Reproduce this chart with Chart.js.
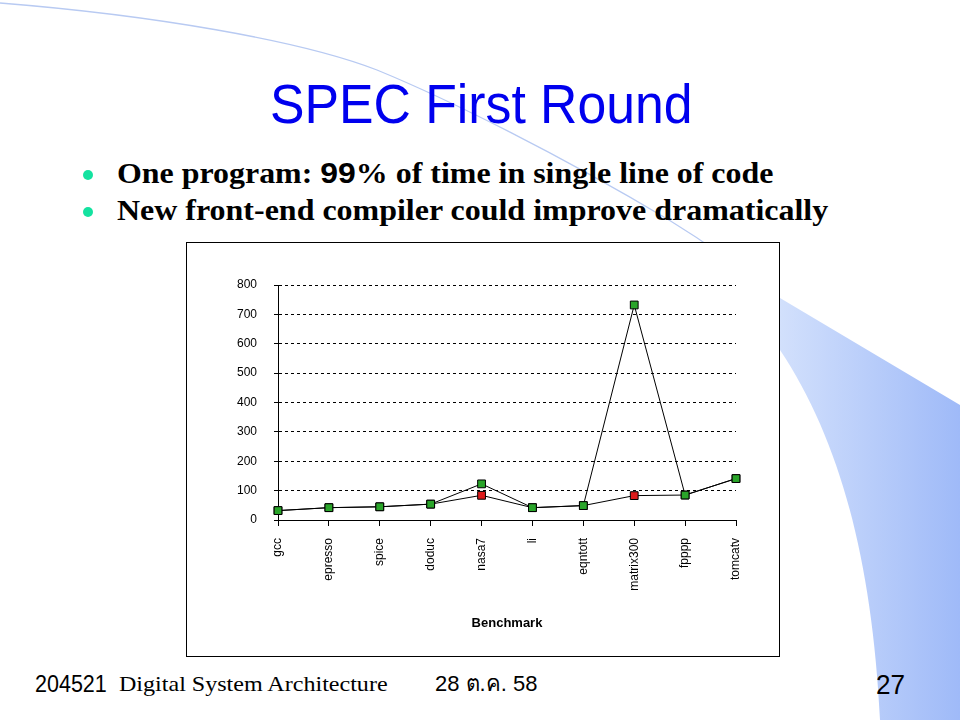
<!DOCTYPE html>
<html>
<head>
<meta charset="utf-8">
<script src="https://cdn.jsdelivr.net/npm/chart.js@4.4.1/dist/chart.umd.min.js"></script>
<style>
html, body { margin: 0; padding: 0; background: #fff; }
#slide { position: relative; width: 960px; height: 720px; overflow: hidden; background: #fff; }
#deco { position: absolute; left: 0; top: 0; }
.t { position: absolute; white-space: nowrap; line-height: 1; transform-origin: 0 0; }
.sans { font-family: "Liberation Sans", Arial, sans-serif; }
.serif { font-family: "Liberation Serif", "Times New Roman", serif; }
.dot { position: absolute; width: 10px; height: 10px; border-radius: 50%; background: #14e2a0; }
#box { position: absolute; left: 186px; top: 242px; width: 592px; height: 413px; border: 1px solid #000; background: #fff; }
</style>
</head>
<body>
<div id="slide">
  <svg id="deco" width="960" height="720">
    <defs>
      <linearGradient id="band" x1="780" y1="0" x2="960" y2="0" gradientUnits="userSpaceOnUse">
        <stop offset="0" stop-color="#d2e0fc"/>
        <stop offset="1" stop-color="#9fbaf8"/>
      </linearGradient>
    </defs>
    <path d="M 0 3 C 150 15 300 40 377 70 C 450 100 560 155 669 220 C 710 245 750 275 780 300" stroke="#b8caf2" stroke-width="1.3" fill="none"/>
    <path d="M 780 298 L 960 405 L 960 720 L 880 720 C 872 560 840 440 780 350 Z" fill="url(#band)"/>
  </svg>

  <div class="t sans" style="left:270px; top:75.7px; font-size:56px; color:#0000ee;" data-w="423">SPEC First Round</div>

  <div class="dot" style="left:83px; top:170px;"></div>
  <div class="t serif" style="left:117px; top:158.7px; font-size:29px; font-weight:bold;" data-w="656">One program: <span class="sans">99</span>% of time in single line of code</div>
  <div class="dot" style="left:83px; top:207px;"></div>
  <div class="t serif" style="left:117px; top:195.7px; font-size:29px; font-weight:bold;" data-w="711">New front-end compiler could improve dramatically</div>

  <div id="box"><canvas id="chart" width="592" height="413"></canvas></div>

  <div class="t sans" style="left:35px; top:672.6px; font-size:23px;" data-w="72">204521</div>
  <div class="t serif" style="left:119px; top:673.4px; font-size:22px;" data-w="269">Digital System Architecture</div>
  <div class="t sans" style="left:435px; top:673.4px; font-size:22px;">28 ต.ค. 58</div>
  <div class="t sans" style="left:876px; top:672.2px; font-size:27px;" data-w="29">27</div>
</div>

<script>
// benchmark names along the x axis
const benchmarks = ['gcc', 'epresso', 'spice', 'doduc', 'nasa7', 'li', 'eqntott', 'matrix300', 'fpppp', 'tomcatv'];
// green squares (upper line)
const ratingNew = [32, 42, 45, 54, 123, 42, 49, 732, 85, 141];
// red squares (lower line)
const ratingOld = [32, 42, 45, 54, 84, 42, 49, 83, 85, 141];
// y axis
const yMin = 0;
const yMax = 800;
const yStep = 100;

// squeeze slide texts to the widths they have in the picture
document.querySelectorAll('.t[data-w]').forEach(function (el) {
  const w = parseFloat(el.getAttribute('data-w'));
  el.style.transform = 'scaleX(' + (w / el.offsetWidth) + ')';
});

const fontFamily = '"Liberation Sans", Arial, sans-serif';

new Chart(document.getElementById('chart').getContext('2d'), {
  type: 'line',
  data: {
    labels: benchmarks,
    datasets: [
      {
        data: ratingNew,
        borderColor: '#000',
        borderWidth: 1,
        tension: 0,
        fill: false,
        pointStyle: 'rect',
        pointRadius: 5.5,
        pointBackgroundColor: '#2aa52a',
        pointBorderColor: '#000',
        pointBorderWidth: 1
      },
      {
        data: ratingOld,
        borderColor: '#000',
        borderWidth: 1,
        tension: 0,
        fill: false,
        pointStyle: 'rect',
        pointRadius: 5.5,
        pointBackgroundColor: '#dd1c1c',
        pointBorderColor: '#000',
        pointBorderWidth: 1
      }
    ]
  },
  options: {
    responsive: false,
    animation: false,
    devicePixelRatio: 1,
    layout: { padding: { top: 42, right: 43, left: 0, bottom: 0 } },
    plugins: {
      legend: { display: false },
      tooltip: { enabled: false }
    },
    scales: {
      x: {
        offset: false,
        grid: { drawOnChartArea: false, color: '#000', tickLength: 6 },
        border: { color: '#000', width: 1 },
        ticks: {
          color: '#000',
          autoSkip: false,
          maxRotation: 90,
          minRotation: 90,
          padding: 12,
          font: { family: fontFamily, size: 12 }
        },
        title: {
          display: true,
          text: 'Benchmark',
          color: '#000',
          font: { family: fontFamily, size: 13, weight: 'bold' },
          padding: { top: 0, bottom: 25 }
        },
        afterFit: function (scale) { scale.height = 136; }
      },
      y: {
        min: yMin,
        max: yMax,
        ticks: {
          stepSize: yStep,
          color: '#000',
          padding: 17,
          font: { family: fontFamily, size: 12 }
        },
        grid: { color: '#000', tickLength: 4, tickBorderDash: [] },
        border: { color: '#000', width: 1, dash: [3, 3] },
        afterFit: function (scale) { scale.width = 91; }
      }
    }
  }
});
</script>
</body>
</html>
